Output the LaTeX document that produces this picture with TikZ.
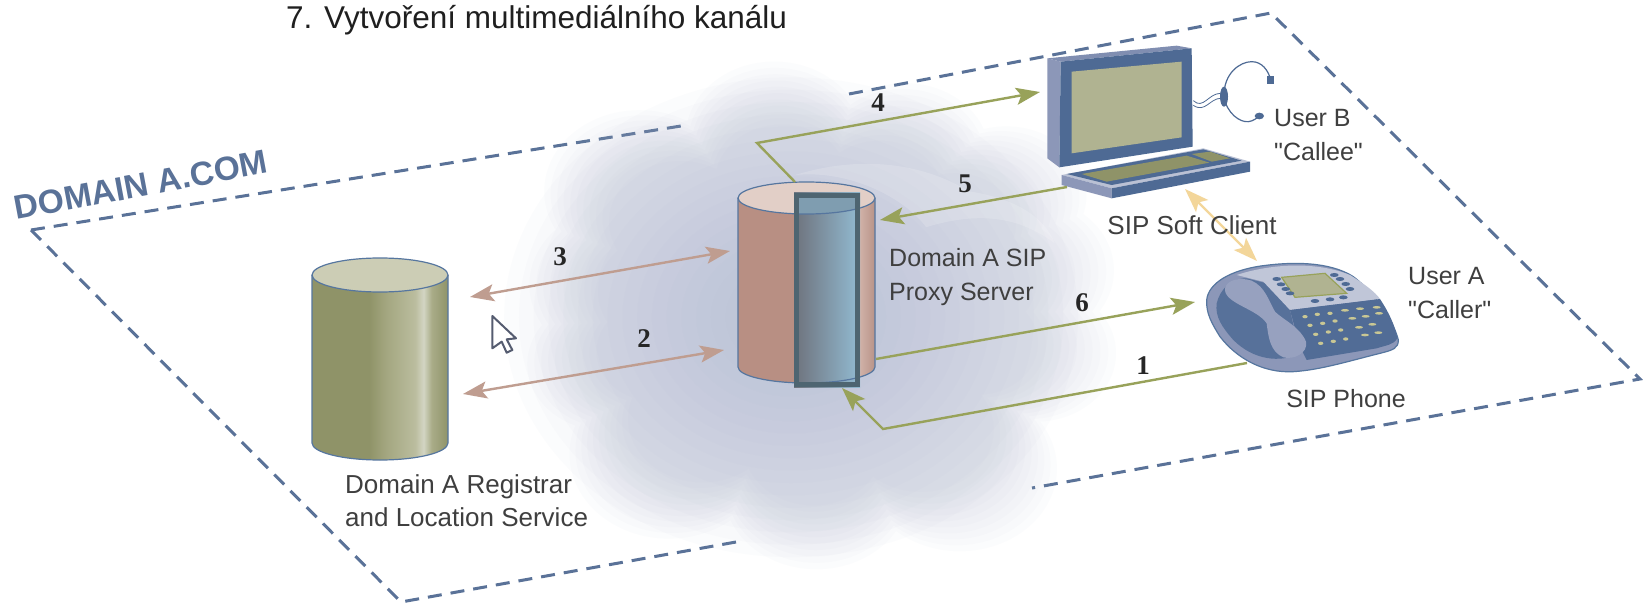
\documentclass[tikz,border=0pt]{standalone}
\usepackage{fontspec}
\setmainfont{Liberation Sans}
\newfontfamily\plainfont{Liberation Sans}
\newfontfamily\numfont{Liberation Serif}
\usetikzlibrary{arrows.meta}
\definecolor{dashblue}{HTML}{5A7298}
\definecolor{cloudc}{HTML}{A6B0CB}
\definecolor{olivec}{HTML}{98A25A}
\definecolor{salmonc}{HTML}{BF9D90}
\definecolor{yellowc}{HTML}{F3D69A}
\definecolor{edgeblue}{HTML}{56769F}
\definecolor{mblue}{HTML}{4E6A94}
\definecolor{mside}{HTML}{8C97B8}
\definecolor{mscreen}{HTML}{B0B391}
\definecolor{textc}{HTML}{3F3F3F}
\definecolor{ra}{HTML}{8F9368}
\definecolor{rb}{HTML}{A3A67F}
\definecolor{rc}{HTML}{BBBD9F}
\definecolor{rd}{HTML}{D3D5C3}
\definecolor{re}{HTML}{A9AC88}
\definecolor{rtop}{HTML}{CCCDB5}
\definecolor{pa}{HTML}{B88F83}
\definecolor{pb}{HTML}{D2B4AA}
\definecolor{pc}{HTML}{B89388}
\definecolor{ptop}{HTML}{E2CFC7}
\definecolor{ba}{HTML}{6E727C}
\definecolor{bb}{HTML}{92BBD2}
\definecolor{btop}{HTML}{7F9DB0}
\definecolor{bframe}{HTML}{4E6571}
\definecolor{curs}{HTML}{555C70}
\definecolor{keyc}{HTML}{C9C794}
\definecolor{kbkeys}{HTML}{8F9368}
\pgfdeclarehorizontalshading{regsh}{100bp}{color(0bp)=(ra);color(25bp)=(ra);color(46bp)=(ra);color(52bp)=(rb);color(63bp)=(rc);color(66bp)=(rd);color(69bp)=(re);color(75bp)=(ra);color(100bp)=(ra)}
\pgfdeclarehorizontalshading{proxysh}{100bp}{color(0bp)=(pa);color(25bp)=(pa);color(60bp)=(pa);color(69bp)=(pb);color(75bp)=(pc);color(100bp)=(pc)}
\pgfdeclarehorizontalshading{bluesh}{100bp}{color(0bp)=(ba);color(25bp)=(ba);color(75bp)=(bb);color(100bp)=(bb)}
\tikzset{
  border/.style={draw=dashblue,line width=3pt,dash pattern=on 14pt off 9pt},
  oarrow/.style={draw=olivec,line width=2.4pt,-{Stealth[length=24pt,width=17pt,inset=5pt]}},
  sarrow/.style={draw=salmonc,line width=2.4pt,{Stealth[length=24pt,width=17pt,inset=5pt]}-{Stealth[length=24pt,width=17pt,inset=5pt]}},
  yarrow/.style={draw=yellowc,line width=2.4pt,{Stealth[length=24pt,width=17pt,inset=5pt]}-{Stealth[length=24pt,width=17pt,inset=5pt]}},
  lab/.style={inner sep=0pt,text=textc,font=\plainfont\fontsize{25}{34.5}\selectfont,align=left},
  num/.style={inner sep=0pt,text=black!85,font=\numfont\bfseries\fontsize{27}{27}\selectfont},
  cyl/.style={draw=edgeblue,line width=1.2pt}
}
\newcommand{\cloudlobes}{
  (650,270) circle[radius=210]
  (330,420) circle[radius=225]
  (960,320) circle[radius=200]
  (1200,430) circle[radius=190]
  (1250,640) circle[radius=205]
  (1270,870) circle[radius=190]
  (1090,1190) circle[radius=230]
  (750,1250) circle[radius=220]
  (400,1150) circle[radius=235]
  (250,900) circle[radius=185]
  (290,680) circle[radius=220]
  (720,740) circle[radius=540]
}
\begin{document}
\begin{tikzpicture}[x=1pt,y=-1pt]
\useasboundingbox (0,0) rectangle (1643,604);
\fill[white] (0,0) rectangle (1643,604);
% domain border
\coordinate (dl) at (31,230);
\coordinate (dt) at (1271,13);
\coordinate (dr) at (1640,379);
\coordinate (db) at (401,602);
\coordinate (dt1) at (681,126);
\coordinate (dt2) at (849,94);
\coordinate (db1) at (736,542);
\coordinate (db2) at (1032,488);
\draw[border] (dl) -- (dt1);
\draw[border] (dt2) -- (dt) -- (dr) -- (db2);
\draw[border] (db1) -- (db) -- (dl);
% cloud
\begin{scope}[shift={(500,40)},xscale=0.4219,yscale=0.36]
\foreach \s in {1.00,0.975,...,0.74}{
  \begin{scope}[shift={(720,760)},scale=\s,shift={(-720,-760)}]
    \fill[cloudc,fill opacity=0.035] \cloudlobes;
  \end{scope}
}
\foreach \r in {680,645,...,60}{
  \fill[cloudc,fill opacity=0.036] (690,770) ellipse[x radius=\r,y radius=\r*0.98];
}
% swirl
\fill[white,fill opacity=0.16] (700,375) .. controls (850,320) and (1000,340) .. (1110,420) .. controls (1220,440) and (1290,490) .. (1315,565) .. controls (1240,500) and (1150,470) .. (1010,520) .. controls (960,440) and (830,360) .. (700,375) -- cycle;
\end{scope}
% registrar cylinder
\coordinate (regtop) at (380,275);
\path[shade,shading=regsh] (312,275) -- (312,443) arc[start angle=180,delta angle=-180,x radius=68,y radius=17] -- (448,275) -- cycle;
\draw[cyl] (312,275) -- (312,443) arc[start angle=180,delta angle=-180,x radius=68,y radius=17] -- (448,275);
\fill[rtop] (regtop) circle[x radius=68,y radius=17];
\draw[cyl] (regtop) circle[x radius=68,y radius=17];
% proxy cylinder
\coordinate (proxytop) at (806.5,198);
\path[shade,shading=proxysh] (738,198) -- (738,367) arc[start angle=180,delta angle=-180,x radius=68.5,y radius=16] -- (875,198) -- cycle;
\draw[cyl] (738,198) -- (738,367) arc[start angle=180,delta angle=-180,x radius=68.5,y radius=16] -- (875,198);
\fill[ptop] (proxytop) circle[x radius=68.5,y radius=16];
\draw[cyl] (proxytop) circle[x radius=68.5,y radius=16];
\path[shade,shading=bluesh] (794,193) rectangle (860,387);
\begin{scope}
\clip (794,193) rectangle (860,387);
\fill[btop] (794,193) rectangle (860,198) (738,198) arc[start angle=180,delta angle=-180,x radius=68.5,y radius=16] -- cycle;
\draw[cyl] (738,198) arc[start angle=180,delta angle=-180,x radius=68.5,y radius=16];
\draw[cyl] (738,367) arc[start angle=180,delta angle=-180,x radius=68.5,y radius=16];
\end{scope}
\draw[draw=bframe,line width=5pt] (796.5,195.5) rectangle (857.5,384.5);
% monitor
\begin{scope}[shift={(1000,30)},scale=1/3]
\fill[mside] (142,85) -- (182,95) -- (178,412) -- (142,385) -- cycle;
\fill[mside!80!mblue] (142,85) -- (530,47) -- (575,55) -- (182,95) -- cycle;
\fill[mblue] (182,95) -- (575,55) -- (578,350) -- (178,412) -- cycle;
\fill[mscreen] (215,125) -- (545,95) -- (545,322) -- (215,370) -- cycle;
% keyboard
\fill[mside!60!white] (185,435) -- (610,355) -- (750,395) -- (335,475) -- cycle;
\fill[mside] (185,435) -- (335,475) -- (335,505) -- (185,465) -- cycle;
\fill[mblue] (335,475) -- (750,395) -- (750,425) -- (335,505) -- cycle;
\fill[mblue] (200,432) -- (610,358) -- (725,392) -- (335,465) -- cycle;
\fill[kbkeys] (245,432) -- (560,377) -- (628,398) -- (320,455) -- cycle;
\fill[kbkeys] (575,372) -- (630,365) -- (690,385) -- (635,395) -- cycle;
% headset
\draw[mblue,line width=1.2pt] (672,200) .. controls (670,130) and (720,95) .. (755,95) .. controls (785,95) and (805,120) .. (812,150);
\draw[mblue,line width=1.2pt] (672,200) .. controls (680,250) and (720,278) .. (745,275) .. controls (760,273) and (770,265) .. (778,258);
\fill[mblue] (800,138) rectangle (822,162);
\fill[mblue] (778,258) ellipse[x radius=14,y radius=10];
\fill[mblue] (672,200) ellipse[x radius=12,y radius=30];
\draw[mblue,line width=.8pt] (580,212) .. controls (610,240) and (625,190) .. (662,190);
\draw[mblue,line width=.8pt] (580,226) .. controls (615,250) and (630,205) .. (662,205);
\end{scope}
% phone
\begin{scope}[shift={(1180,220)},scale=1/3]
\fill[mside,draw=edgeblue,line width=1.2pt] (80,240) .. controls (85,190) and (150,150) .. (250,137) .. controls (340,125) and (450,125) .. (520,170) .. controls (580,215) and (640,300) .. (655,360) .. controls (655,385) and (640,390) .. (600,400) .. controls (500,425) and (420,450) .. (340,455) .. controls (250,460) and (170,415) .. (120,350) .. controls (95,310) and (78,280) .. (80,240) -- cycle;
\fill[mblue!85!mside] (110,250) .. controls (120,210) and (150,175) .. (200,175) -- (260,190) -- (330,270) -- (360,400) .. controls (300,430) and (220,420) .. (160,360) .. controls (125,320) and (105,290) .. (110,250) -- cycle;
\fill[mside!55!white] (170,165) .. controls (260,135) and (400,120) .. (510,165) .. controls (550,190) and (585,215) .. (600,237) -- (330,270) -- (250,185) -- cycle;
\fill[mblue!95!mside] (330,270) -- (600,237) .. controls (625,275) and (645,315) .. (652,355) .. controls (640,375) and (620,375) .. (590,385) -- (380,420) -- (360,380) -- cycle;
\fill[mside!90!white] (135,205) .. controls (140,180) and (180,170) .. (215,182) .. controls (255,200) and (265,240) .. (285,275) .. controls (310,300) and (360,320) .. (378,365) .. controls (385,400) and (340,420) .. (310,412) .. controls (270,395) and (265,350) .. (260,310) .. controls (230,265) and (130,250) .. (135,205) -- cycle;
% screen
\fill[mscreen,draw=olivec,line width=1.2pt] (305,172) -- (435,160) -- (500,220) -- (345,232) -- cycle;
\foreach \x/\y in {290/177,303/193,317/207,330/220,463/165,480/177,497/192,510/207,405/243,450/238,490/232}
  \fill[mblue] (\x,\y) ellipse[x radius=13,y radius=6];
\foreach \x/\y in {375/290,412/283,450/280,390/316,428/310,465/303,407/343,445/336,482/330,422/370,460/364,497/357}
  \fill[keyc] (\x,\y) ellipse[x radius=8,y radius=5];
\foreach \x/\y in {495/271,540/266,517/295,557/289,537/322,577/313,555/345,595/338,590/262,597/280}
  \fill[keyc] (\x,\y) ellipse[x radius=12,y radius=4];
\end{scope}
% connector anchors
\coordinate (a4a) at (795,182);
\coordinate (a4b) at (757,143);
\coordinate (a4c) at (1040,92);
\coordinate (a5a) at (1067,187);
\coordinate (a5b) at (880,220);
\coordinate (a6a) at (876,359);
\coordinate (a6b) at (1195,302);
\coordinate (a1a) at (1247,363);
\coordinate (a1b) at (883,429);
\coordinate (a1c) at (842,388);
\coordinate (a3a) at (470,297);
\coordinate (a3b) at (730,251);
\coordinate (a2a) at (463,394);
\coordinate (a2b) at (724,350);
\coordinate (aya) at (1185,189);
\coordinate (ayb) at (1257,261);
\draw[oarrow] (a4a) -- (a4b) -- (a4c);
\draw[oarrow] (a5a) -- (a5b);
\draw[oarrow] (a6a) -- (a6b);
\draw[oarrow] (a1a) -- (a1b) -- (a1c);
\draw[sarrow] (a3a) -- (a3b);
\draw[sarrow] (a2a) -- (a2b);
\draw[yarrow] (aya) -- (ayb);
% cursor
\begin{scope}[shift={(280,240)},scale=1/3]
\filldraw[fill=white,draw=curs,line width=2pt,line join=round] (637,228) -- (637,325) -- (665,305) -- (680,338) -- (697,330) -- (680,298) -- (708,295) -- cycle;
\end{scope}
% texts
\node[inner sep=0pt,anchor=base west,text=black!88,font=\fontsize{31.5}{36}\selectfont] (title) at (286,29) {7. Vytvoření multimediálního kanálu};
\node[inner sep=0pt,text=dashblue,rotate=10.6,font=\bfseries\fontsize{33.5}{33.5}\selectfont] (domain) at (141,185) {DOMAIN A.COM};
\node[lab,anchor=west] (userb) at (1274,135) {User B\\"Callee"};
\node[lab,anchor=center] (softc) at (1192,225) {\fontsize{26}{30}\selectfont SIP Soft Client};
\node[lab,anchor=west] (usera) at (1408,293) {User A\\"Caller"};
\node[lab,anchor=center] (sipph) at (1346,399) {SIP Phone};
\node[lab,anchor=west] (proxyl) at (889,277) {Domain A SIP\\Proxy Server};
\node[lab,anchor=west,font=\plainfont\fontsize{26}{33}\selectfont] (regl) at (345,501) {Domain A Registrar\\and Location Service};
\node[num] (n4) at (878,103) {4};
\node[num] (n5) at (965,184) {5};
\node[num] (n3) at (560,257) {3};
\node[num] (n2) at (644,339) {2};
\node[num] (n6) at (1082,303) {6};
\node[num] (n1) at (1143,366) {1};
\end{tikzpicture}
\end{document}
